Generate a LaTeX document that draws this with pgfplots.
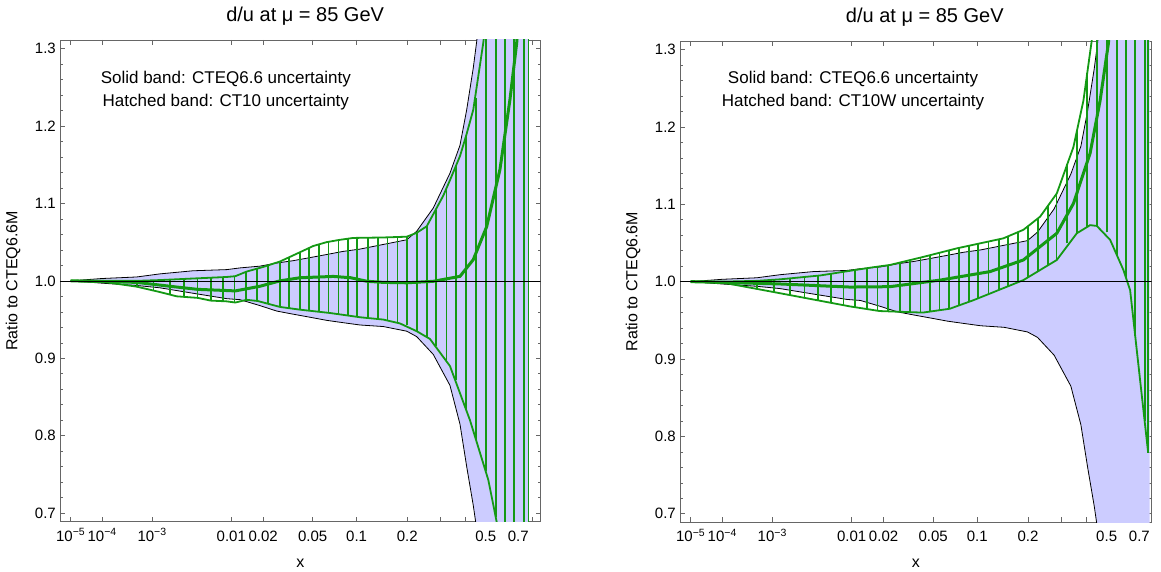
\documentclass[border=0pt]{standalone}
\usepackage{fontspec}
\setmainfont{Liberation Sans}
\usepackage{pgfplots}
\usepackage{pgfplotstable}
\pgfplotsset{compat=1.18}
\usepgfplotslibrary{fillbetween}

\definecolor{bandblue}{rgb}{0.8,0.8,1}
\definecolor{ctgreen}{rgb}{0.08,0.6,0.08}
\definecolor{framegray}{gray}{0.4}

% x-coordinate is t = x^0.2 (the scale of the original plot)
\pgfplotstableread{
t v
0.100 1.000
0.158 1.003
0.2225 1.005
0.2658 1.009
0.327 1.013
0.3896 1.0145
0.4143 1.0167
0.4515 1.019
0.4825 1.023
0.5127 1.026
0.5443 1.030
0.5753 1.034
0.6056 1.038
0.6371 1.041
0.6804 1.047
0.7239 1.053
0.7424 1.064
0.7732 1.094
0.8042 1.139
0.8228 1.175
0.8353 1.221
0.8475 1.275
0.854 1.31
0.866 1.40
0.90 1.80
0.95 2.50
}\cteqUp

\pgfplotstableread{
t v
0.100 1.000
0.158 0.997
0.2225 0.994
0.2658 0.991
0.327 0.984
0.3896 0.977
0.4143 0.9757
0.4515 0.968
0.4825 0.961
0.5127 0.957
0.5443 0.953
0.5753 0.949
0.6056 0.946
0.6371 0.943
0.6804 0.941
0.7239 0.935
0.7424 0.928
0.7732 0.905
0.8042 0.865
0.8228 0.815
0.8353 0.76
0.8475 0.71
0.86 0.65
0.90 0.30
0.95 -0.50
}\cteqLo

\pgfplotstableread{
t v
0.100 1.000
0.158 1.000
0.2225 1.000
0.2658 1.001
0.327 1.003
0.3896 1.005
0.4056 1.006
0.4268 1.012
0.4576 1.018
0.4886 1.025
0.5196 1.035
0.5504 1.045
0.5753 1.050
0.600 1.053
0.6247 1.0554
0.6804 1.056
0.7239 1.057
0.7424 1.062
0.761 1.0704
0.7732 1.086
0.7918 1.11
0.8042 1.13
0.8228 1.161
0.8353 1.19
0.8475 1.221
0.866 1.307
0.8785 1.38
0.95 2.00
}\ctTenUp

\pgfplotstableread{
t v
0.100 1.000
0.158 0.999
0.2225 0.9925
0.2658 0.9855
0.2968 0.980
0.3358 0.978
0.3599 0.9745
0.3896 0.9735
0.4056 0.972
0.4268 0.9755
0.4470 0.974
0.4886 0.9663
0.5257 0.9628
0.5814 0.9585
0.6371 0.953
0.6804 0.950
0.7114 0.945
0.7424 0.935
0.767 0.925
0.8042 0.89
0.8414 0.82
0.8754 0.743
0.8909 0.689
0.95 0.30
}\ctTenLo

\pgfplotstableread{
t v
0.100 1.000
0.173 0.999
0.2225 0.998
0.2968 0.992
0.3358 0.989
0.3896 0.9875
0.4056 0.987
0.4515 0.993
0.4886 1.000
0.5257 1.004
0.5876 1.0057
0.620 1.004
0.6496 0.9995
0.6804 0.998
0.7239 0.9975
0.7732 0.9994
0.8228 1.0058
0.8475 1.0274
0.8724 1.070
0.897 1.1437
0.9156 1.234
0.9281 1.307
0.95 1.50
}\ctTenC

% hatch lines of the CT10 band: position, lower end, upper end
\pgfplotstableread{
t lo hi
0.2227 0.9925 1.000
0.2539 0.988 1.001
0.2844 0.9835 1.002
0.3109 0.9795 1.002
0.3354 0.978 1.003
0.3599 0.9745 1.004
0.3831 0.9735 1.005
0.4043 0.972 1.006
0.4262 0.9755 1.012
0.4459 0.974 1.016
0.4661 0.971 1.020
0.4879 0.9665 1.025
0.5059 0.9648 1.030
0.5257 0.9628 1.0371
0.5430 0.9614 1.0426
0.5608 0.960 1.0465
0.5788 0.9587 1.0504
0.5974 0.9562 1.0527
0.6152 0.9544 1.0546
0.6316 0.9533 1.0554
0.6518 0.9519 1.0555
0.6704 0.9508 1.0558
0.6882 0.9491 1.0562
0.7068 0.9463 1.0566
0.7244 0.9427 1.0571
0.7430 0.9349 1.0622
0.7612 0.9266 1.0705
0.7777 0.9155 1.0918
0.7976 0.8979 1.1197
0.8154 0.8719 1.1486
0.8340 0.8341 1.1868
0.8519 0.7955 1.2356
0.8705 0.7551 1.32
0.8891 0.6950 1.40
0.9064 0.62 1.50
0.9236 0.55 1.60
0.9414 0.45 1.80
0.9502 0.40 1.90
}\hatchL

\pgfplotstableread{
t v
0.100 1.000
0.158 1.000
0.2225 1.001
0.2657 1.003
0.34 1.008
0.395 1.014
0.432 1.018
0.4693 1.0216
0.531 1.032
0.5929 1.043
0.6793 1.056
0.7163 1.067
0.7473 1.084
0.7782 1.114
0.809 1.174
0.8275 1.234
0.843 1.312
0.87 1.50
0.95 2.50
}\ctWUp

\pgfplotstableread{
t v
0.100 1.000
0.158 0.999
0.2657 0.985
0.395 0.968
0.45 0.962
0.53 0.960
0.58 0.965
0.6237 0.976
0.7163 1.002
0.7782 1.028
0.8153 1.0625
0.8399 1.073
0.8523 1.072
0.877 1.054
0.9016 1.015
0.914 0.989
0.9474 0.779
}\ctWLo

\pgfplotstableread{
t v
0.100 1.000
0.158 0.999
0.2657 0.997
0.395 0.993
0.4693 0.9935
0.5620 1.002
0.6546 1.013
0.7163 1.028
0.7782 1.0625
0.809 1.101
0.8399 1.166
0.8584 1.234
0.8738 1.308
0.95 2.00
}\ctWC

% hatch lines of the CT10W band
\pgfplotstableread{
t lo hi
0.2227 0.990 1.001
0.2539 0.9866 1.0025
0.2844 0.9826 1.0043
0.3109 0.979 1.0062
0.3354 0.976 1.0077
0.3599 0.9729 1.0101
0.3831 0.9697 1.0127
0.4043 0.967 1.015
0.4262 0.9645 1.0174
0.4459 0.9624 1.0195
0.4661 0.9613 1.0214
0.4879 0.9607 1.0246
0.5059 0.9602 1.0276
0.5257 0.9600 1.0311
0.5430 0.9612 1.0341
0.5608 0.9631 1.0373
0.5788 0.9649 1.0405
0.5974 0.9686 1.0437
0.6152 0.9739 1.0464
0.6316 0.9782 1.0488
0.6518 0.9838 1.0519
0.6704 0.9890 1.0546
0.6882 0.9939 1.0596
0.7068 0.9991 1.0642
0.7244 1.0054 1.0715
0.7430 1.0127 1.0816
0.7612 1.0198 1.0976
0.7777 1.0278 1.1136
0.7976 1.0496 1.1514
0.8154 1.0625 1.1945
0.8340 1.0705 1.27
0.8519 1.072 1.40
0.8705 1.0636 1.45
0.8891 1.035 1.60
0.9064 1.0055 1.80
0.9236 0.93 2.00
0.9414 0.82 2.30
0.9474 0.779 2.40
}\hatchR

\pgfplotsset{
  panel/.style={
    scale only axis,
    ymin=0.689, ymax=1.311,
    ytick={0.7,0.8,0.9,1.0,1.1,1.2,1.3},
    yticklabels={0.7,0.8,0.9,1.0,1.1,1.2,1.3},
    minor y tick num=4,
    xtick={0.1,0.15849,0.25119,0.39811,0.45731,0.54928,0.63096,0.72478,0.87055,0.93114},
    xticklabels={10\textsuperscript{−5},10\textsuperscript{−4},10\textsuperscript{−3},0.01,0.02,0.05,0.1,0.2,0.5,0.7},
    extra x ticks={0.78600,0.83255,0.90288},
    extra x tick labels={},
    xtick pos=both, ytick pos=both,
    xticklabel pos=lower, yticklabel pos=left,
    tick align=inside,
    major tick length=5bp, minor tick length=3bp,
    every tick/.style={framegray, line width=0.6bp},
    axis line style={framegray, line width=0.8bp},
    xticklabel style={font=\fontsize{15bp}{18bp}\selectfont, anchor=base, yshift=-19.3bp, inner sep=0pt},
    yticklabel style={font=\fontsize{15bp}{18bp}\selectfont, anchor=east, xshift=-4bp, inner sep=0pt},
    xlabel={x},
    ylabel={Ratio to CTEQ6.6M},
    label style={font=\fontsize{16bp}{19bp}\selectfont},
    title={d/u at μ = 85 GeV},
    title style={font=\fontsize{20bp}{24bp}\selectfont, anchor=base, yshift=13bp},
  },
  blackedge/.style={black, line width=0.8bp},
  greenedge/.style={ctgreen, line width=1.8bp},
  greenmid/.style={ctgreen, line width=3bp},
  hatch/.style={draw=none, no markers, forget plot,
    error bars/.cd, y dir=plus, y explicit, error mark=none,
    error bar style={draw=ctgreen, solid, line width=1.8bp}},
}

\begin{document}
\begin{tikzpicture}
\path (0,0) rectangle (1161bp,572bp);

% ---------------- left panel ----------------
\begin{axis}[panel,
  at={(60bp,50.3bp)}, anchor=south west,
  width=480.7bp, height=481.7bp,
  xmin=0.0801, xmax=0.9727,
  extra x ticks={0.78600,0.83255,0.90288,0.95635},
  xlabel style={at={(axis description cs:0.5,-0.0857)}, anchor=center},
  ylabel style={at={(axis description cs:-0.0978,0.5)}, anchor=center},
  title style={at={(axis description cs:0.51,1)}},
]
\addplot[name path=A, draw=none] table[x=t,y=v] {\cteqUp};
\addplot[name path=B, draw=none] table[x=t,y=v] {\cteqLo};
\addplot[bandblue] fill between[of=A and B];
\addplot[blackedge] table[x=t,y=v] {\cteqUp};
\addplot[blackedge] table[x=t,y=v] {\cteqLo};
\addplot[hatch] table[x=t, y=lo, y error expr=\thisrow{hi}-\thisrow{lo}] {\hatchL};
\addplot[greenedge] table[x=t,y=v] {\ctTenUp};
\addplot[greenedge] table[x=t,y=v] {\ctTenLo};
\addplot[greenmid] table[x=t,y=v] {\ctTenC};
\addplot[black, line width=0.6bp] coordinates {(0.0801,1) (0.9727,1)};
\node[anchor=base, font=\fontsize{17bp}{20bp}\selectfont] at (axis description cs:0.345,0.9107) {Solid band: CTEQ6.6 uncertainty};
\node[anchor=base, font=\fontsize{17bp}{20bp}\selectfont] at (axis description cs:0.345,0.861) {Hatched band: CT10 uncertainty};
\end{axis}

% ---------------- right panel ----------------
\begin{axis}[panel,
  at={(680bp,49.7bp)}, anchor=south west,
  width=471.7bp, height=481.3bp,
  xmin=0.0802, xmax=0.954,
  xlabel style={at={(axis description cs:0.5,-0.0857)}, anchor=center},
  ylabel style={at={(axis description cs:-0.0996,0.5)}, anchor=center},
  title style={at={(axis description cs:0.519,1)}},
]
\addplot[name path=A, draw=none] table[x=t,y=v] {\cteqUp};
\addplot[name path=B, draw=none] table[x=t,y=v] {\cteqLo};
\addplot[bandblue] fill between[of=A and B];
\addplot[blackedge] table[x=t,y=v] {\cteqUp};
\addplot[blackedge] table[x=t,y=v] {\cteqLo};
\addplot[hatch] table[x=t, y=lo, y error expr=\thisrow{hi}-\thisrow{lo}] {\hatchR};
\addplot[greenedge] table[x=t,y=v] {\ctWUp};
\addplot[greenedge] table[x=t,y=v] {\ctWLo};
\addplot[greenmid] table[x=t,y=v] {\ctWC};
\addplot[black, line width=0.6bp] coordinates {(0.0802,1) (0.954,1)};
\node[anchor=base, font=\fontsize{17bp}{20bp}\selectfont] at (axis description cs:0.3668,0.9127) {Solid band: CTEQ6.6 uncertainty};
\node[anchor=base, font=\fontsize{17bp}{20bp}\selectfont] at (axis description cs:0.3668,0.8629) {Hatched band: CT10W uncertainty};
\end{axis}
\end{tikzpicture}
\end{document}
